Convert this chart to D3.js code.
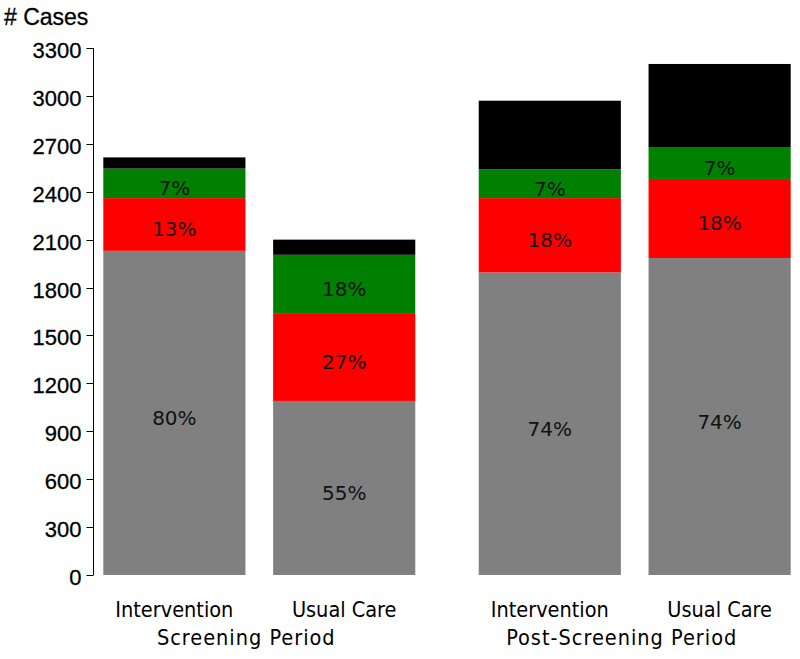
<!DOCTYPE html>
<html lang="en">
<head>
  <meta charset="UTF-8">
  <title>Cases by period</title>
  <script src="https://d3js.org/d3.v7.min.js"></script>
  <style>
    html, body { margin: 0; padding: 0; background: #fff; }
    svg { display: block; }
    .tick-label { font: 22px "Liberation Sans", Arial, sans-serif; fill: #000; stroke: #000; stroke-width: 0.3px; }
    .title { font: 23px "Liberation Sans", Arial, sans-serif; fill: #000; stroke: #000; stroke-width: 0.3px; }
    .cat { font: 21.5px "DejaVu Sans Condensed", "DejaVu Sans", sans-serif; fill: #000; }
    .grp { font: 21.5px "DejaVu Sans Condensed", "DejaVu Sans", sans-serif; fill: #000; letter-spacing: 1px; }
    .pct { font: 20px "DejaVu Sans", sans-serif; fill: #111; }
  </style>
</head>
<body>
  <svg id="chart" width="800" height="659"></svg>
  <script>
    // Data (case counts per stacked segment)
    const groups = ["Screening Period", "Post-Screening Period"];
    const arms = ["Intervention", "Usual Care"];
    const segments = ["gray", "red", "green", "black"];
    const colors = ["#808080", "#ff0000", "#008000", "#000000"];

    // one entry per bar: [group, arm]
    const bars = [
      ["Screening Period", "Intervention"],
      ["Screening Period", "Usual Care"],
      ["Post-Screening Period", "Intervention"],
      ["Post-Screening Period", "Usual Care"]
    ];
    const grayValues  = [2030, 1090, 1895, 1985];
    const redValues   = [330, 545, 465, 495];
    const greenValues = [185, 370, 180, 200];
    const blackValues = [70, 95, 430, 520];

    // percentage labels shown inside gray / red / green segments
    const grayPct  = ["80%", "55%", "74%", "74%"];
    const redPct   = ["13%", "27%", "18%", "18%"];
    const greenPct = ["7%", "18%", "7%", "7%"];

    const yTicks = d3.range(0, 3301, 300);

    const svg = d3.select("#chart");

    const y = d3.scaleLinear().domain([0, 3300]).range([575, 48]);

    const xGroup = d3.scaleBand()
      .domain(groups)
      .range([103.3, 790.7])
      .paddingInner(0.169)
      .paddingOuter(0);

    const xArm = d3.scaleBand()
      .domain(arms)
      .range([0, xGroup.bandwidth()])
      .paddingInner(0.163)
      .paddingOuter(0);

    // Build stacked table
    const table = bars.map((b, i) => ({
      group: b[0], arm: b[1],
      gray: grayValues[i], red: redValues[i], green: greenValues[i], black: blackValues[i],
      labels: { gray: grayPct[i], red: redPct[i], green: greenPct[i] }
    }));
    const stacked = d3.stack().keys(segments)(table);

    const barX = d => xGroup(d.data.group) + xArm(d.data.arm);

    // Bars
    const layer = svg.append("g").selectAll("g")
      .data(stacked)
      .join("g")
      .attr("fill", (d, i) => colors[i]);

    layer.selectAll("rect")
      .data(d => d)
      .join("rect")
      .attr("x", barX)
      .attr("y", d => y(d[1]))
      .attr("width", xArm.bandwidth())
      .attr("height", d => y(d[0]) - y(d[1]));

    // Percent labels
    stacked.slice(0, 3).forEach(s => {
      svg.append("g").selectAll("text")
        .data(s)
        .join("text")
        .attr("class", "pct")
        .attr("text-anchor", "middle")
        .attr("x", d => barX(d) + xArm.bandwidth() / 2)
        .attr("y", d => (y(d[0]) + y(d[1])) / 2 + 12)
        .text(d => d.data.labels[s.key]);
    });

    // Y axis
    const axis = svg.append("g").attr("transform", "translate(93.5,0)");
    axis.append("line")
      .attr("x1", 0).attr("x2", 0)
      .attr("y1", y(3300)).attr("y2", y(0))
      .attr("stroke", "#000").attr("stroke-width", 1);
    axis.selectAll(".tk")
      .data(yTicks)
      .join("line")
      .attr("x1", -7).attr("x2", 0)
      .attr("y1", d => Math.round(y(d)) + 0.5)
      .attr("y2", d => Math.round(y(d)) + 0.5)
      .attr("stroke", "#000");
    axis.selectAll(".tick-label")
      .data(yTicks)
      .join("text")
      .attr("class", "tick-label")
      .attr("text-anchor", "end")
      .attr("x", -12)
      .attr("y", d => y(d) + 10)
      .text(d => d);

    svg.append("text")
      .attr("class", "title")
      .attr("x", 4).attr("y", 25)
      .text("# Cases");

    // Category labels
    svg.append("g").selectAll("text")
      .data(table)
      .join("text")
      .attr("class", "cat")
      .attr("text-anchor", "middle")
      .attr("x", d => xGroup(d.group) + xArm(d.arm) + xArm.bandwidth() / 2)
      .attr("y", 617)
      .text(d => d.arm);

    svg.append("g").selectAll("text")
      .data(groups)
      .join("text")
      .attr("class", "grp")
      .attr("text-anchor", "middle")
      .attr("x", d => xGroup(d) + xGroup.bandwidth() / 2 - 13)
      .attr("y", 645)
      .text(d => d);
  </script>
</body>
</html>
